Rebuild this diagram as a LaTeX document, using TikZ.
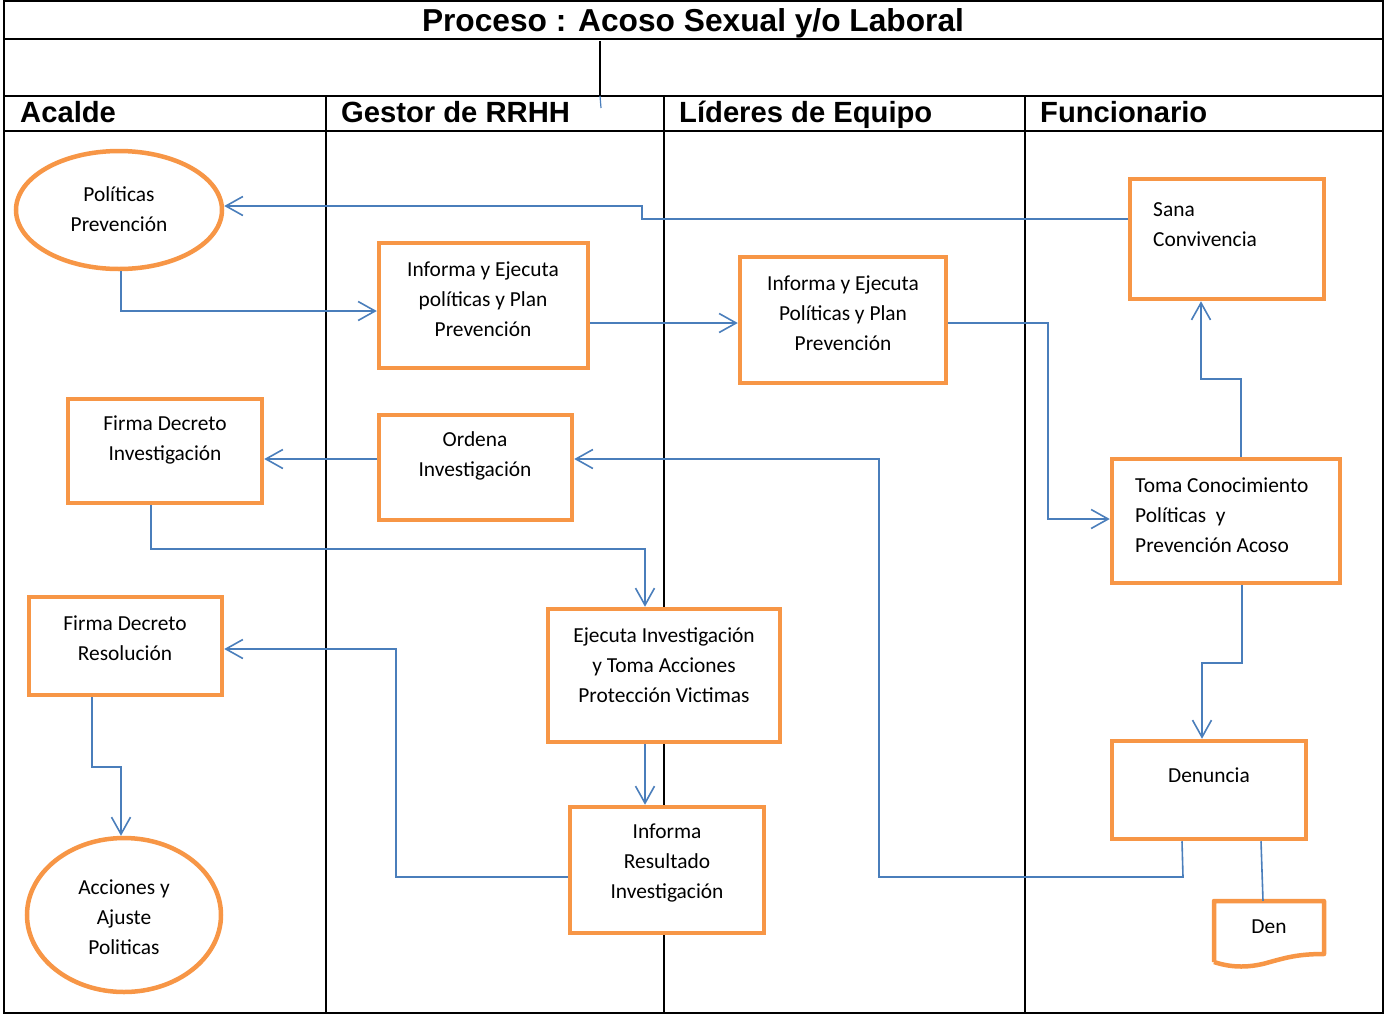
\documentclass[tikz,border=0pt]{standalone}
\usepackage{fontspec}
\setmainfont{Carlito}
\newfontfamily\headfont{Liberation Sans}
\usetikzlibrary{shapes.geometric,arrows.meta}
\definecolor{boxorange}{RGB}{247,150,70}
\definecolor{connblue}{RGB}{74,126,187}
\begin{document}
\begin{tikzpicture}[x=1pt,y=-1pt,
 lane/.style={line width=2pt,draw=black},
 box/.style={draw=boxorange,fill=white,line width=4.5pt,rectangle,inner sep=0pt},
 oval/.style={draw=boxorange,fill=white,line width=4.5pt,ellipse,inner sep=0pt},
 txt/.style={font=\fontsize{21.4}{30}\selectfont,align=center,inner sep=0pt},
 ltxt/.style={font=\fontsize{21.4}{30}\selectfont,align=left,inner sep=0pt,anchor=west},
 conn/.style={draw=connblue,line width=1.6pt,-{Straight Barb[length=17pt,width=19pt,line width=1.6pt]}},
 plain/.style={draw=connblue,line width=1.6pt},
 head/.style={font=\headfont\bfseries\fontsize{29.2}{32}\selectfont,anchor=base west,inner sep=0pt}]
\useasboundingbox (0,0) rectangle (1384,1015);
% table
\draw[lane] (4,1) rectangle (1383,1013);
\draw[lane] (4,39) -- (1383,39);
\draw[lane] (4,96) -- (1383,96);
\draw[lane] (4,131) -- (1383,131);
\draw[lane] (326,96) -- (326,1013);
\draw[lane] (664,96) -- (664,1013);
\draw[lane] (1025,96) -- (1025,1013);
\draw[lane] (600,41) -- (600,96);
\draw[plain,line width=1.2pt] (600,96) -- (601,108);
\node[font=\headfont\bfseries\fontsize{31.7}{34}\selectfont,anchor=base,inner sep=0pt] (title) at (693,31) {Proceso : Acoso Sexual y/o Laboral};
\node[head] (h1) at (20,122) {Acalde};
\node[head] (h2) at (341,122) {Gestor de RRHH};
\node[head] (h3) at (679,122) {Líderes de Equipo};
\node[head] (h4) at (1040,122) {Funcionario};
% shapes
\node[oval,minimum width=206pt,minimum height=118pt] (pol) at (119,210) {};
\node[box,minimum width=209pt,minimum height=125pt] (n2) at (483.5,305.5) {};
\node[box,minimum width=206pt,minimum height=126pt] (n3) at (843,320) {};
\node[box,minimum width=194pt,minimum height=120pt] (sana) at (1227,239) {};
\node[box,minimum width=194pt,minimum height=104pt] (fir1) at (165,451) {};
\node[box,minimum width=193pt,minimum height=105pt] (ord) at (475.5,467.5) {};
\node[box,minimum width=228pt,minimum height=124pt] (toma) at (1226,521) {};
\node[box,minimum width=193pt,minimum height=98pt] (fir2) at (125.5,646) {};
\node[box,minimum width=232pt,minimum height=133pt] (ejec) at (664,675.5) {};
\node[box,minimum width=194pt,minimum height=98pt] (denun) at (1209,790) {};
\node[oval,minimum width=194pt,minimum height=154pt] (acc) at (124,915) {};
\node[box,minimum width=194pt,minimum height=126pt] (inf) at (667,870) {};
\node[inner sep=0pt,minimum width=110pt,minimum height=52pt] (docden) at (1269,927) {};
\draw[draw=boxorange,fill=white,line width=4.5pt,line join=round] (1214,962) -- (1214,901) -- (1324,901) -- (1324,954)
  .. controls (1300,954) and (1288,957) .. (1270,962) .. controls (1250,968) and (1232,968) .. (1214,962);
% texts
\node[txt] (t1) at (119,209) {Políticas\\Prevención};
\node[txt] (t2) at (483,299) {Informa y Ejecuta\\políticas y Plan\\Prevención};
\node[txt] (t3) at (843,313) {Informa y Ejecuta\\Políticas y Plan\\Prevención};
\node[ltxt] (t4) at (1153,225) {Sana\\Convivencia};
\node[txt] (t5) at (165,440) {Firma Decreto\\Investigación};
\node[txt] (t6) at (475,456) {Ordena\\Investigación};
\node[ltxt] (t7) at (1135,515) {Toma Conocimiento\\Políticas\ \ y\\Prevención Acoso};
\node[txt] (t8) at (125,638) {Firma Decreto\\Resolución};
\node[txt] (t9) at (664,665) {Ejecuta Investigación\\y Toma Acciones\\Protección Victimas};
\node[txt] (t10) at (1209,775) {Denuncia};
\node[txt] (t11) at (124,917) {Acciones y\\Ajuste\\Politicas};
\node[txt] (t12) at (667,863) {Informa\\Resultado\\Investigación};
\node[txt] (t13) at (1269,927) {Den};
% connectors
\draw[conn] (sana.west |- 0,219) -| (642,206) -- (pol.east |- 0,206);
\draw[conn] (pol.south -| 121,0) |- (n2.west |- 0,311);
\draw[conn] (n2.east |- 0,323) -- (n3.west |- 0,323);
\draw[conn] (n3.east |- 0,323) -| (1048,519) -- (toma.west |- 0,519);
\draw[conn] (toma.north -| 1241,0) -- (1241,379) -| (sana.south -| 1201,0);
\draw[conn] (toma.south -| 1242,0) -- (1242,663) -| (denun.north -| 1202,0);
\draw[conn] (denun.south -| 1182,0) -- (1183,877) -- (879,877) |- (ord.east |- 0,459);
\draw[conn] (ord.west |- 0,459) -- (fir1.east |- 0,459);
\draw[conn] (fir1.south -| 151,0) |- (645,549) -- (ejec.north -| 645,0);
\draw[conn] (ejec.south -| 645,0) -- (inf.north -| 645,0);
\draw[conn] (inf.west |- 0,877) -| (396,649) -- (fir2.east |- 0,649);
\draw[conn] (fir2.south -| 92,0) |- (121,767) -- (acc.north -| 121,0);
\draw[plain] (denun.south -| 1261,0) -- (docden.north -| 1263,0);
\end{tikzpicture}
\end{document}
